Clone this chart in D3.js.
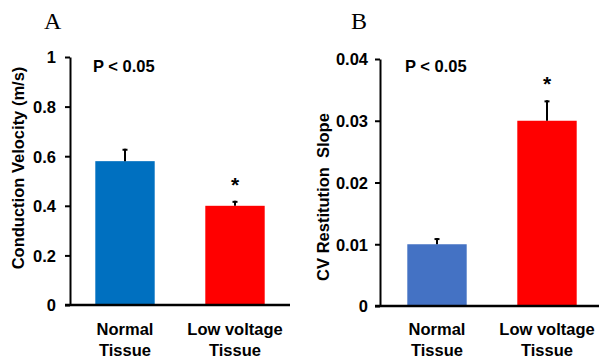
<!DOCTYPE html>
<html>
<head>
<meta charset="utf-8">
<script src="https://cdn.jsdelivr.net/npm/d3@7"></script>
<style>
  body { margin: 0; background: #fff; }
  svg { display: block; }
  .tick text, .lbl { font-family: "Liberation Sans", Arial, sans-serif; font-weight: bold; font-size: 16.5px; fill: #000; }
  .panel { font-family: "Liberation Serif", "Times New Roman", serif; font-size: 24px; fill: #000; }
</style>
</head>
<body>
<svg id="chart" width="599" height="360"></svg>
<script>
const categories = [["Normal", "Tissue"], ["Low voltage", "Tissue"]];

const cvMeans = [0.58, 0.40];
const cvErrors = [0.05, 0.02];
const cvTicks = [0, 0.2, 0.4, 0.6, 0.8, 1];

const slopeMeans = [0.010, 0.030];
const slopeErrors = [0.001, 0.0033];
const slopeTicks = [0, 0.01, 0.02, 0.03, 0.04];

const starred = [false, true];

const svg = d3.select("#chart");

function drawPanel(cfg){
    let g = svg.append("g");

    let x = d3.scaleBand()
        .domain(d3.range(categories.length))
        .range(cfg.band)
        .paddingInner(0.46)
        .paddingOuter(0.23);

    let y = d3.scaleLinear().domain(cfg.domain).range([cfg.bottom, cfg.top]);

    // bars
    g.selectAll(".bar")
        .data(cfg.means)
        .join("rect")
        .attr("class", "bar")
        .attr("x", (d,i) => x(i))
        .attr("width", x.bandwidth())
        .attr("y", d => y(d))
        .attr("height", d => y(0) - y(d))
        .attr("fill", (d,i) => cfg.colors[i]);

    // error bars
    let cx = i => x(i) + x.bandwidth() / 2;
    g.selectAll(".err")
        .data(cfg.means)
        .join("line")
        .attr("x1", (d,i) => cx(i)).attr("x2", (d,i) => cx(i))
        .attr("y1", d => y(d))
        .attr("y2", (d,i) => y(d + cfg.errors[i]))
        .attr("stroke", "#000").attr("stroke-width", 2);
    g.selectAll(".cap")
        .data(cfg.means)
        .join("line")
        .attr("x1", (d,i) => cx(i) - 2.5).attr("x2", (d,i) => cx(i) + 2.5)
        .attr("y1", (d,i) => y(d + cfg.errors[i]) + 1)
        .attr("y2", (d,i) => y(d + cfg.errors[i]) + 1)
        .attr("stroke", "#000").attr("stroke-width", 2);

    // asterisks
    g.selectAll(".star")
        .data(cfg.means.map((d,i) => ({d, i})).filter(o => starred[o.i]))
        .join("text")
        .attr("class", "lbl")
        .style("font-size", "21px")
        .attr("x", o => cx(o.i))
        .attr("y", o => y(o.d + cfg.errors[o.i]) - 9)
        .attr("text-anchor", "middle")
        .text("*");

    // y axis
    let yAxis = g.append("g")
        .attr("transform", `translate(${cfg.axisX},0)`)
        .call(d3.axisLeft(y).tickValues(cfg.ticks).tickFormat(d => String(d))
            .tickSize(5).tickSizeOuter(0).tickPadding(cfg.pad));
    yAxis.select(".domain").attr("stroke-width", 2);
    yAxis.selectAll(".tick line").attr("stroke-width", 2);
    yAxis.selectAll(".tick text").attr("dy", "0.36em");

    // x axis line
    g.append("line")
        .attr("x1", cfg.axisX - 5).attr("x2", cfg.axisEnd)
        .attr("y1", y(0)).attr("y2", y(0))
        .attr("stroke", "#000").attr("stroke-width", 2.5);

    // category labels
    let cat = g.selectAll(".cat")
        .data(categories)
        .join("text")
        .attr("class", "lbl")
        .attr("text-anchor", "middle");
    cat.selectAll("tspan")
        .data((d,i) => d.map(t => ({t, i})))
        .join("tspan")
        .attr("x", o => cx(o.i))
        .attr("y", (o,j) => 335 + j * 21)
        .text(o => o.t);

    // y title
    g.append("text")
        .attr("class", "lbl")
        .attr("transform", `translate(${cfg.titleX},${cfg.titleY}) rotate(-90)`)
        .attr("text-anchor", "middle")
        .attr("xml:space", "preserve")
        .text(cfg.title);

    g.append("text").attr("class", "lbl")
        .attr("x", cfg.pX).attr("y", 72)
        .text("P < 0.05");

    g.append("text").attr("class", "panel")
        .attr("x", cfg.letterX).attr("y", 29)
        .text(cfg.letter);
}

drawPanel({
    means: cvMeans, errors: cvErrors, ticks: cvTicks, domain: [0, 1],
    colors: ["#0070C0", "#FF0000"],
    band: [70, 290], axisX: 70, axisEnd: 290, top: 57, bottom: 305, pad: 9,
    title: "Conduction Velocity (m/s)", titleX: 24, titleY: 168,
    pX: 93, letter: "A", letterX: 44
});

drawPanel({
    means: slopeMeans, errors: slopeErrors, ticks: slopeTicks, domain: [0, 0.04],
    colors: ["#4472C4", "#FF0000"],
    band: [382, 602], axisX: 380, axisEnd: 599, top: 59, bottom: 306, pad: 7,
    title: "CV Restitution  Slope", titleX: 329, titleY: 197,
    pX: 405, letter: "B", letterX: 351
});
</script>
</body>
</html>
